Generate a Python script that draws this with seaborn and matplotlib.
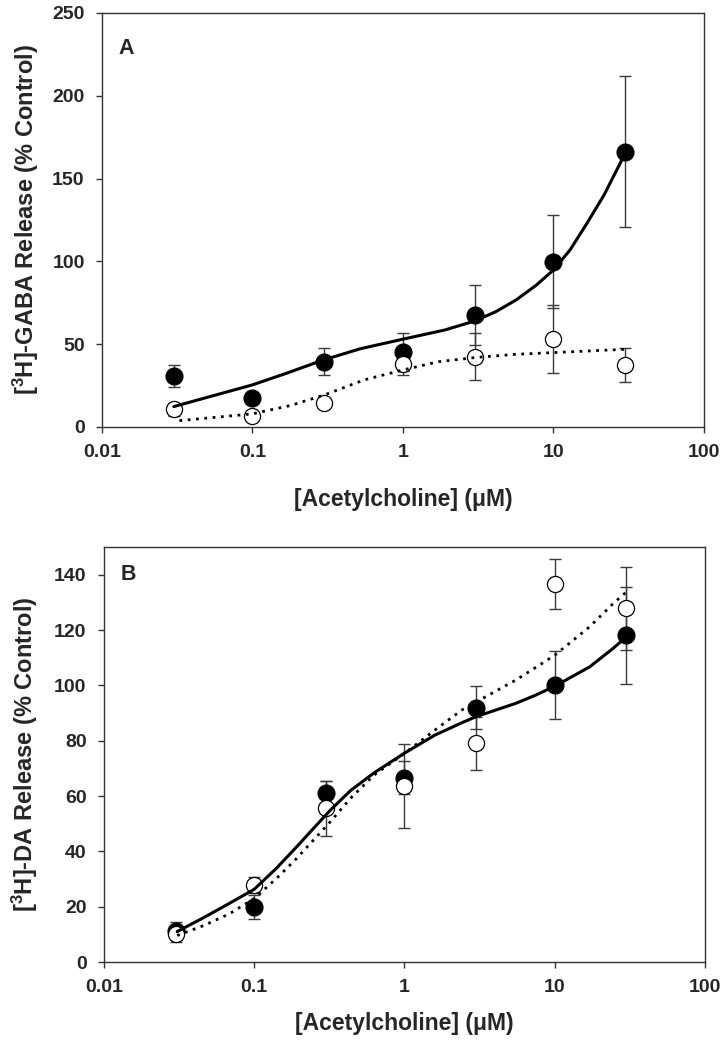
import numpy as np
import pandas as pd
import matplotlib
matplotlib.use("Agg")
import matplotlib.pyplot as plt
import seaborn as sns

# concentrations (uM)
conc = [0.03, 0.1, 0.3, 1, 3, 10, 30]

# Panel A: [3H]-GABA release
gaba_filled = [30.8, 17.3, 39.4, 45.1, 67.6, 99.8, 166.2]
gaba_filled_err = [6.8, 0, 8.3, 11.5, 18.0, 28.0, 45.6]
gaba_open = [10.7, 6.6, 14.3, 38.0, 42.5, 53.1, 37.4]
gaba_open_err = [4.0, 0, 0, 6.5, 14.3, 20.4, 10.0]

# fitted curves
gaba_fit_x = [0.03, 0.1, 0.168, 0.297, 0.525, 1, 1.91, 3, 4.14, 5.65, 7.71,
              10, 12.9, 16.7, 21.7, 26.7, 30]
gaba_fit_filled = [12.3, 25.4, 32.4, 40.5, 47.3, 53.0, 58.6, 64.0, 69.6, 76.7,
                   85.7, 94.8, 106.9, 123.0, 140.1, 156.2, 165.3]
gaba_fit2_x = [0.0327, 0.1, 0.18, 0.3, 0.552, 1, 1.72, 3, 5.5, 10, 30]
gaba_fit_open = [3.8, 7.9, 13.0, 19.3, 28.4, 34.4, 39.4, 41.9, 43.8, 44.9, 46.9]

# Panel B: [3H]-DA release
da_filled = [11.3, 19.8, 61.0, 66.6, 91.9, 100.1, 118.1]
da_filled_err = [3.0, 4.3, 4.4, 6.0, 7.8, 12.3, 17.6]
da_open = [10.1, 27.8, 55.5, 63.6, 79.0, 136.6, 127.8]
da_open_err = [3.0, 3.0, 10.0, 15.2, 9.5, 9.1, 15.0]

da_fit_x = [0.0307, 0.0452, 0.0683, 0.1, 0.1406, 0.192, 0.248, 0.321, 0.438,
            0.628, 1, 1.59, 2.41, 3, 5.5, 7.48, 10, 17.1, 24.5, 30]
da_fit_filled = [11.0, 15.8, 21.2, 26.3, 33.9, 41.7, 48.3, 54.9, 62.0, 68.4,
                 75.5, 82.0, 86.5, 88.7, 93.5, 96.5, 99.7, 106.7, 113.4, 117.6]
da_fit_open = [9.6, 13.0, 17.4, 23.0, 30.2, 37.5, 44.1, 50.7, 59.2, 67.6,
               75.4, 83.8, 91.1, 94.0, 101.9, 106.5, 110.9, 121.2, 129.6, 133.8]

xticks = [0.01, 0.1, 1, 10, 100]
xticklabels = ["0.01", "0.1", "1", "10", "100"]

sns.set_style("ticks")
plt.rcParams["font.family"] = ["Liberation Sans", "DejaVu Sans"]
plt.rcParams["mathtext.fontset"] = "custom"
plt.rcParams["mathtext.rm"] = "Liberation Sans"
plt.rcParams["mathtext.bf"] = "Liberation Sans:bold"

fig = plt.figure(figsize=(7.27, 10.49), dpi=100)
axA = fig.add_axes([0.1403, 0.5930, 0.828, 0.3947])
axB = fig.add_axes([0.143, 0.0829, 0.8267, 0.3956])


def draw_panel(ax, filled, filled_err, opn, opn_err, fx1, fy1, fx2, fy2):
    for y, e in [(filled, filled_err), (opn, opn_err)]:
        ax.errorbar(conc, y, yerr=e, fmt="none", ecolor="#3a3a3a",
                    elinewidth=1.0, capsize=4.2, capthick=1.0, zorder=2)
    sns.scatterplot(x=conc, y=filled, ax=ax, color="black", edgecolor="black",
                    s=150, linewidth=0.8, zorder=3, legend=False)
    sns.scatterplot(x=conc, y=opn, ax=ax, color="white", edgecolor="black",
                    s=135, linewidth=0.9, zorder=3, legend=False)
    sns.lineplot(x=fx1, y=fy1, ax=ax, color="black", linewidth=2.2, zorder=4)
    sns.lineplot(x=fx2, y=fy2, ax=ax, color="black", linewidth=2.0,
                 linestyle=(0, (1, 2)), zorder=4)
    ax.set_xscale("log")
    ax.set_xlim(0.01, 100)
    ax.set_xticks(xticks)
    ax.set_xticklabels(xticklabels)
    ax.minorticks_off()
    for s in ax.spines.values():
        s.set_visible(True)
        s.set_color("#333333")
        s.set_linewidth(1.0)
    ax.tick_params(axis="both", direction="out", length=4.5, width=1.0,
                   color="#333333", labelsize=14)
    ax.tick_params(axis="x", pad=8)
    ax.tick_params(axis="y", pad=8)
    for lab in ax.get_xticklabels() + ax.get_yticklabels():
        lab.set_fontweight("bold")


draw_panel(axA, gaba_filled, gaba_filled_err, gaba_open, gaba_open_err,
           gaba_fit_x, gaba_fit_filled, gaba_fit2_x, gaba_fit_open)
axA.set_ylim(0, 250)
axA.set_yticks([0, 50, 100, 150, 200, 250])
for lab in axA.get_yticklabels():
    lab.set_fontweight("bold")
axA.set_xlabel("[Acetylcholine] (\u03bcM)", fontsize=16.5, fontweight="bold",
               labelpad=19)
axA.set_ylabel(r"[$\mathbf{^3}$H]-GABA Release (% Control)", fontsize=17,
               fontweight="bold", labelpad=8)
axA.text(0.028, 0.915, "A", transform=axA.transAxes, fontsize=15.5,
         fontweight="bold", va="center", ha="left")

draw_panel(axB, da_filled, da_filled_err, da_open, da_open_err,
           da_fit_x, da_fit_filled, da_fit_x, da_fit_open)
axB.set_ylim(0, 150)
axB.set_yticks([0, 20, 40, 60, 80, 100, 120, 140])
for lab in axB.get_yticklabels():
    lab.set_fontweight("bold")
axB.set_xlabel("[Acetylcholine] (\u03bcM)", fontsize=16.5, fontweight="bold",
               labelpad=11)
axB.set_ylabel(r"[$\mathbf{^3}$H]-DA Release (% Control)", fontsize=17,
               fontweight="bold", labelpad=10)
axB.text(0.028, 0.935, "B", transform=axB.transAxes, fontsize=15.5,
         fontweight="bold", va="center", ha="left")

fig.savefig("out.png", dpi=100, facecolor="white")
